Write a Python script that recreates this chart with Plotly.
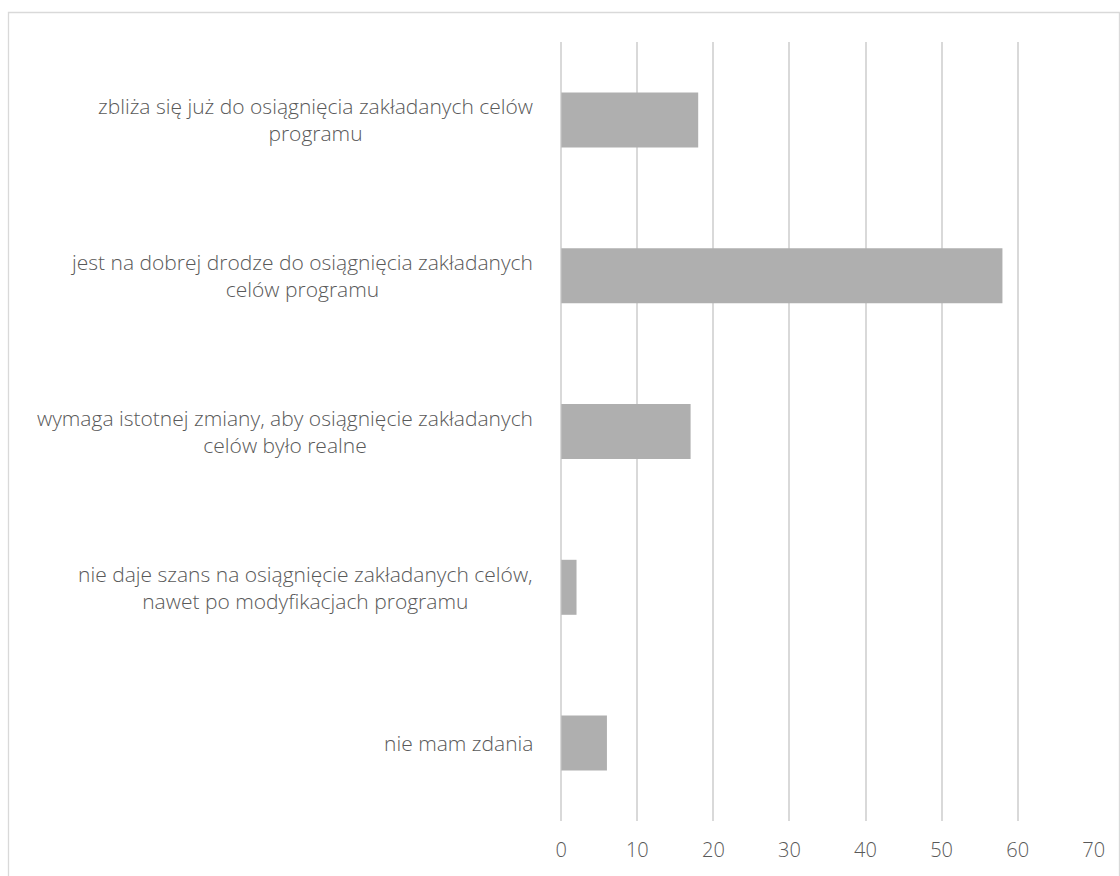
import plotly.graph_objects as go

# Survey answers (top to bottom) and their counts
categories = [
    "zbliża się już do osiągnięcia zakładanych celów<br>programu",
    "jest na dobrej drodze do osiągnięcia zakładanych<br>celów programu",
    "wymaga istotnej zmiany, aby osiągnięcie zakładanych<br>celów było realne",
    "nie daje szans na osiągnięcie zakładanych celów,<br>nawet po modyfikacjach programu",
    "nie mam zdania",
]
values = [18, 58, 17, 2, 6]
x_ticks = [0, 10, 20, 30, 40, 50, 60, 70]

W, H = 1120, 876
ML, MR, MT, MB = 561, 26, 42, 55
TEXT = "#595959"
GRID = "#d9d9d9"
FONT = "Open Sans"

fig = go.Figure(
    go.Bar(
        x=values,
        y=categories,
        orientation="h",
        marker=dict(color="#afafaf", line=dict(width=0)),
        hoverinfo="x+y",
    )
)

# Category labels: right-aligned block, lines centred within it
pw = W - ML - MR
label_x = (535 - ML) / pw
for cat in categories:
    fig.add_annotation(
        x=label_x, xref="paper", y=cat, yref="y",
        text=cat, showarrow=False, xanchor="right", yanchor="middle",
        align="center", font=dict(family=FONT, size=21, color=TEXT, weight=300),
    )

# Outer chart frame
ph = H - MT - MB
fig.add_shape(
    type="rect", xref="paper", yref="paper",
    x0=(8.5 - ML) / pw, x1=(1119.5 - ML) / pw,
    y0=(H - MB - 890) / ph, y1=(H - MB - 12.5) / ph,
    line=dict(color=GRID, width=1.3), fillcolor="rgba(0,0,0,0)", layer="below",
)

fig.update_layout(
    width=W, height=H,
    margin=dict(l=ML, r=MR, t=MT, b=MB, pad=0),
    paper_bgcolor="white", plot_bgcolor="white",
    bargap=0.647,
    showlegend=False,
    font=dict(family=FONT, color=TEXT, size=20),
    xaxis=dict(
        range=[-0.04, 70.04], tickvals=x_ticks, showgrid=True, gridcolor=GRID,
        gridwidth=1.5, zeroline=True, zerolinecolor=GRID, zerolinewidth=1.5,
        showline=False, ticks="",
        tickfont=dict(family=FONT, size=20, color=TEXT, weight=300),
        ticklabelstandoff=15,
    ),
    yaxis=dict(
        categoryorder="array", categoryarray=categories[::-1],
        showticklabels=False, showgrid=False, zeroline=False, showline=False,
    ),
)

fig.write_html("out.html")
